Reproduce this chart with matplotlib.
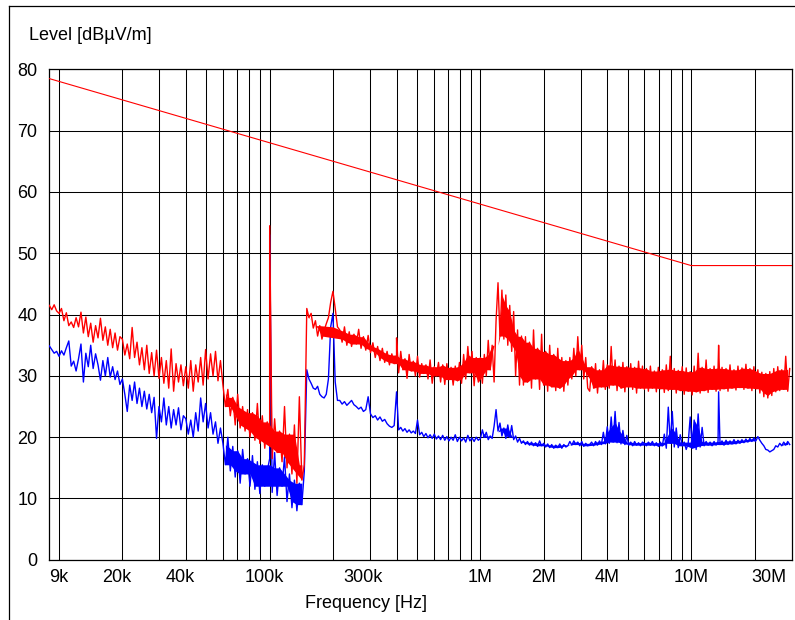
import numpy as np
import matplotlib
matplotlib.use("Agg")
import matplotlib.pyplot as plt
import matplotlib.transforms as mtransforms
from matplotlib.lines import Line2D

plt.rcParams['font.family'] = ['Liberation Sans', 'DejaVu Sans']

# ---------------------------------------------------------------- data
# Limit line (dBuV/m) at frequency corners (Hz)
limit_f = [9e3, 10e6, 30e6]
limit_v = [78.5, 48.0, 48.0]

# Sweep segments: start/end frequency; levels are log-spaced across each segment
seg_edges = [9e3, 20e3, 40e3, 60e3, 100e3, 150e3, 190e3, 215e3, 400e3,
             1e6, 1.6e6, 2.6e6, 3.3e6, 6e6, 30e6]

# Peak trace (red), one list per segment
red_09k = [41.5, 40.8, 41.6, 40.6, 40.2, 41.0, 39.0, 40.3, 38.2, 38.8, 37.9, 39.5, 38.0, 40.4,
           37.0, 39.6, 36.4, 38.6, 35.5, 38.2, 36.2, 39.4, 35.8, 38.0, 35.0, 37.6, 34.6, 37.0, 34.2, 36.4]
red_20k = [36.0, 33.4, 35.2, 32.8, 37.9, 33.0, 35.5, 31.8, 34.6, 31.0, 35.0, 30.4, 33.8, 30.0,
           34.2, 29.6, 33.0, 28.8, 32.5, 28.0, 34.4, 27.5, 32.0, 29.0, 31.8, 28.4]
red_40k = [31.5, 28.0, 32.5, 27.5, 31.8, 29.0, 33.0, 28.5, 34.3, 29.5, 33.6, 30.0, 34.0, 29.2, 32.5]
red_60k = [28.5, 25.0, 27.8, 23.5, 26.5, 22.0, 27.0, 21.5, 25.0, 21.0, 24.5, 20.0, 24.0, 19.5,
           25.5, 19.0, 23.5, 18.2, 22.5]
red_100k = [21.5, 16.5, 23.0, 17.5, 21.0, 16.0, 25.0, 15.0, 20.5, 14.0, 22.0, 12.5, 26.6, 13.0, 15.5]
red_150k = [41.0, 39.5, 40.2, 37.8, 39.0, 36.5, 38.2, 36.0, 37.4, 38.5]
red_190k = [39.5, 42.0, 43.8, 41.0, 38.0]
red_215k = [37.5, 35.5, 38.0, 35.0, 37.2, 34.8, 36.8, 35.2, 37.6, 34.5, 36.4, 34.2, 36.6, 33.8,
            35.4, 33.0, 34.8, 32.5, 34.5, 32.2, 34.0, 31.8, 33.6, 32.0]
red_400k = [33.4, 30.5, 34.0, 31.0, 32.8, 29.6, 33.5, 30.8, 32.4, 30.0, 33.2, 29.8, 32.0, 30.4,
            31.8, 29.5, 32.6, 28.8, 31.5, 30.0, 32.2, 29.0, 31.8, 28.6, 32.0, 29.4, 31.4, 28.5,
            31.6, 29.2, 32.2, 28.8, 33.5, 29.5, 34.8, 30.5, 34.0, 28.4, 33.0, 29.0]
red_1M = [33.0, 28.8, 33.5, 30.0, 35.8, 31.0, 35.0, 29.0, 39.0, 45.2, 36.5, 44.0, 36.0, 43.2,
          35.0, 41.5, 34.0, 40.5, 30.0, 37.5, 28.5, 36.5]
red_1M6 = [28.5, 36.4, 29.0, 35.5, 28.0, 37.5, 29.5, 34.5, 27.8, 36.8, 28.5, 34.0, 27.5, 35.0,
           28.2, 33.5, 27.6, 34.5, 28.0, 33.0, 27.5, 32.5]
red_2M6 = [28.5, 33.0, 29.5, 34.5, 30.0, 36.4, 31.0, 35.0, 29.5, 33.0, 28.0]
red_3M3 = [27.5, 31.5, 28.0, 32.0, 27.2, 31.0, 28.2, 32.5, 27.8, 31.8, 28.0, 34.8, 28.5, 32.6,
           27.6, 31.6, 28.0, 32.2, 27.4, 31.5, 28.2, 32.0, 27.8, 31.4, 27.2, 32.4, 28.0, 31.6]
red_6M = [27.8, 31.2, 27.5, 31.6, 28.0, 30.8, 27.4, 31.4, 27.9, 31.0, 27.3, 31.8, 27.6, 33.2,
          27.8, 31.2, 27.2, 30.9, 27.6, 31.5, 27.0, 31.3, 27.5, 30.7, 26.9, 31.6, 27.4, 33.7,
          27.2, 31.4, 27.6, 32.6, 27.3, 31.2, 27.8, 31.6, 27.5, 31.3,
          27.6, 31.4, 27.9, 31.2, 27.5, 31.8, 28.0, 31.0, 27.7, 31.6, 28.1, 31.3, 27.8, 31.9,
          28.0, 31.2, 27.6, 31.5, 27.9, 31.0, 27.2, 30.6, 26.6, 30.4, 26.4, 30.7, 26.8, 31.2,
          27.4, 31.5, 27.6, 31.0, 27.8, 33.2, 27.5, 31.2]
red_spike_f = [100e3, 400e3, 13.5e6]
red_spike_v = [54.5, 36.2, 35.0]

# Average trace (blue), one list per segment
blue_09k = [34.9, 34.3, 33.7, 34.0, 33.2, 34.1, 33.4, 34.6, 35.7, 31.6, 32.4, 30.8, 32.8, 35.2,
            29.0, 33.7, 31.5, 35.0, 31.2, 33.6, 31.8, 29.3, 32.5, 30.0, 33.0, 29.8, 31.5, 29.4, 30.8, 28.6]
blue_20k = [29.5, 27.0, 24.2, 28.5, 26.0, 29.0, 25.5, 28.0, 25.0, 27.5, 24.6, 27.0, 24.0, 26.5,
            19.8, 25.0, 22.5, 26.4, 22.0, 25.0, 21.5, 24.5, 22.0, 24.8, 21.2, 23.5]
blue_40k = [23.0, 20.5, 22.8, 20.0, 24.0, 21.0, 26.4, 22.5, 25.5, 21.5, 24.0, 20.5, 22.5, 19.0, 21.5]
blue_60k = [19.0, 15.5, 20.0, 14.5, 18.5, 13.5, 17.8, 12.5, 18.0, 14.0, 16.5, 12.0, 17.0, 11.5,
            16.0, 10.8, 15.5, 12.0, 14.5]
blue_100k = [16.5, 11.0, 17.5, 10.5, 15.0, 12.0, 16.8, 9.5, 14.0, 8.5, 13.0, 8.0, 12.5, 9.0, 14.5]
blue_150k = [31.0, 29.5, 28.8, 28.0, 27.8, 28.3, 27.0, 26.6, 26.4, 27.0]
blue_190k = [29.5, 38.0, 40.2, 29.0, 26.0]
blue_215k = [26.0, 25.4, 25.8, 25.2, 25.6, 26.0, 25.3, 25.0, 24.6, 24.9, 24.2, 24.5, 26.6, 23.8,
             23.2, 23.5, 22.8, 23.3, 22.6, 22.9, 22.2, 21.8, 21.6, 21.9]
blue_400k = [27.4, 21.2, 21.6, 21.0, 21.4, 20.8, 21.2, 20.7, 21.0, 20.6, 22.8, 20.4, 20.8, 20.1,
             20.6, 19.9, 20.4, 19.8, 20.5, 19.7, 20.2, 19.6, 20.3, 19.5, 20.1, 19.4, 20.0, 19.5,
             20.4, 19.3, 20.0, 19.4, 19.9, 19.2, 20.3, 19.4, 19.9, 19.3, 20.0, 19.5]
blue_1M = [19.8, 21.2, 20.0, 20.8, 19.6, 20.2, 19.8, 21.8, 24.5, 21.0, 22.3, 20.2, 21.5, 19.8,
           22.0, 20.0, 21.9, 19.6, 20.2, 19.2, 19.8, 19.0]
blue_1M6 = [19.4, 18.8, 19.3, 18.7, 19.2, 18.6, 19.1, 18.5, 19.4, 18.6, 19.0, 18.4, 18.9, 18.3,
            18.8, 18.2, 18.7, 18.3, 18.9, 18.2, 18.8, 18.4]
blue_2M6 = [18.6, 19.3, 18.7, 19.4, 18.8, 19.2, 18.6, 19.3, 18.5, 19.0, 18.6]
blue_3M3 = [18.8, 19.2, 18.6, 19.3, 18.7, 19.4, 18.8, 20.8, 18.9, 21.7, 19.0, 23.3, 19.2, 24.2,
            19.1, 22.4, 18.9, 21.1, 18.8, 20.3, 18.7, 19.2, 18.6, 19.3, 18.7, 19.1, 18.6, 19.2]
blue_6M = [19.0, 18.6, 19.2, 18.7, 19.3, 18.6, 19.1, 18.5, 19.2, 18.6, 20.5, 18.2, 24.9, 19.0,
           24.2, 18.4, 21.5, 18.3, 20.4, 18.6, 19.2, 18.0, 19.0, 23.3, 18.2, 22.8, 18.0, 23.8,
           18.4, 21.6, 18.6, 19.3, 18.7, 19.2, 18.6, 19.3, 18.7, 19.3, 18.8, 19.4, 18.7, 19.5,
           18.8, 19.4, 18.9, 19.6, 18.9, 19.5, 19.0, 19.6, 19.1, 19.7, 19.2, 19.8, 19.3, 19.9,
           19.4, 20.1, 19.5, 19.0, 18.6, 18.0, 17.9, 17.6, 17.8, 18.0, 18.6, 18.4, 19.0, 18.6,
           19.2, 18.7, 19.3, 18.8]
blue_spike_f = [100e3, 13.5e6]
blue_spike_v = [53.0, 27.4]

red_levels = [red_09k, red_20k, red_40k, red_60k, red_100k, red_150k, red_190k, red_215k,
              red_400k, red_1M, red_1M6, red_2M6, red_3M3, red_6M]
blue_levels = [blue_09k, blue_20k, blue_40k, blue_60k, blue_100k, blue_150k, blue_190k, blue_215k,
               blue_400k, blue_1M, blue_1M6, blue_2M6, blue_3M3, blue_6M]

x_labels = ['9k', '20k', '40k', '100k', '300k', '1M', '2M', '4M', '10M', '30M']
x_label_f = [9e3, 20e3, 40e3, 100e3, 300e3, 1e6, 2e6, 4e6, 10e6, 30e6]

# frequency bands where the sweep is dense enough to show a solid core
red_dense = [(60e3, 150e3), (150e3, 30.1e6)]
blue_dense = [(60e3, 150e3), (1e6, 30.1e6)]


def sweep(levels):
    f = np.concatenate([np.geomspace(seg_edges[i], seg_edges[i + 1], len(lv), endpoint=False)
                        for i, lv in enumerate(levels)])
    v = np.concatenate([np.asarray(lv, dtype=float) for lv in levels])
    return f, v


def with_spikes(f, v, spike_f, spike_v):
    ff = np.concatenate([f, np.asarray(spike_f, float)])
    vv = np.concatenate([v, np.asarray(spike_v, float)])
    order = np.argsort(ff, kind='stable')
    return ff[order], vv[order]


def core_fill(ax, f, v, bands, color, z):
    """Fill the solid core of a dense sweep: between the lower run of its
    local maxima and the upper run of its local minima."""
    for lo_f, hi_f in bands:
        m = (f >= lo_f) & (f < hi_f)
        ff, vv = f[m], v[m]
        if len(vv) < 5:
            continue
        left = np.r_[vv[0], vv[:-1]]
        right = np.r_[vv[1:], vv[-1]]
        imax = np.flatnonzero((vv >= left) & (vv >= right))
        imin = np.flatnonzero((vv <= left) & (vv <= right))
        mx, mn = vv[imax], vv[imin]
        core_up = np.minimum(np.minimum(np.r_[mx[0], mx[:-1]], mx), np.r_[mx[1:], mx[-1]])
        core_dn = np.maximum(np.maximum(np.r_[mn[0], mn[:-1]], mn), np.r_[mn[1:], mn[-1]])
        i0 = max(imax[0], imin[0])
        i1 = min(imax[-1], imin[-1])
        sl = slice(i0, i1 + 1)
        lx = np.log10(ff)
        up = np.interp(lx[sl], lx[imax], core_up)
        dn = np.interp(lx[sl], lx[imin], core_dn)
        dn = np.minimum(dn, up)
        ax.fill_between(ff[sl], dn, up, color=color, lw=0, zorder=z)


red_f0, red_v0 = sweep(red_levels)
blue_f0, blue_v0 = sweep(blue_levels)
red_f, red_v = with_spikes(red_f0, red_v0, red_spike_f, red_spike_v)
blue_f, blue_v = with_spikes(blue_f0, blue_v0, blue_spike_f, blue_spike_v)

# ---------------------------------------------------------------- figure
W, H = 795, 620
fig = plt.figure(figsize=(W / 100, H / 100), dpi=100)
ax = fig.add_axes([49.3 / W, 1 - 559.8 / H, (791.7 - 49.3) / W, (559.8 - 69.4) / H])

ax.set_xscale('log')
ax.set_xlim(9e3, 30e6)
ax.set_ylim(0, 80)

grid_f = [m * 10 ** e for e in (4, 5, 6) for m in range(1, 10)] + [1e7, 2e7]
ax.set_xticks(grid_f)
ax.set_xticks([], minor=True)
ax.set_xticklabels([])
ax.set_yticks(range(0, 81, 10))
ax.tick_params(axis='both', length=0, labelsize=13)
ax.tick_params(axis='y', pad=8.6)
ax.grid(True, which='major', color='black', linewidth=0.75)
ax.set_axisbelow(True)
for s in ax.spines.values():
    s.set_linewidth(0.9)
    s.set_color('black')

BLUE, RED = '#0000ff', '#ff0000'
core_fill(ax, blue_f0, blue_v0, blue_dense, BLUE, 3)
ax.plot(blue_f, blue_v, color=BLUE, lw=1.0, zorder=3)
core_fill(ax, red_f0, red_v0, red_dense, RED, 4)
ax.plot(red_f, red_v, color=RED, lw=1.0, zorder=4)
ax.plot(limit_f, limit_v, color=RED, lw=0.8, zorder=5)

# frequency labels under the axis
label_dx = [0, -5.7, -5.5, -5.8, -7.2, 0, 0, 0, 0, -5]
label_ha = ['left', 'center', 'center', 'center', 'center', 'center', 'center', 'center', 'center', 'right']
base = mtransforms.blended_transform_factory(ax.transData, ax.transAxes)
for f, lab, dx, ha in zip(x_label_f, x_labels, label_dx, label_ha):
    tr = base + mtransforms.ScaledTranslation(dx / 100, -21.9 / 100, fig.dpi_scale_trans)
    ax.text(f, 0, lab, transform=tr, ha=ha, va='baseline', fontsize=13)

fig.text(29.3 / W, 1 - 40 / H, 'Level [dBµV/m]', ha='left', va='baseline', fontsize=13)
fig.text(305 / W, 1 - 608.3 / H, 'Frequency [Hz]', ha='left', va='baseline', fontsize=13)

# outer frame (left and top edges)
fig.add_artist(Line2D([8.5 / W, 8.5 / W], [0, 1 - 6 / H], color='black', lw=0.9))
fig.add_artist(Line2D([8.5 / W, 1.0], [1 - 6 / H, 1 - 6 / H], color='black', lw=0.9))

fig.savefig('out.png', dpi=100)
